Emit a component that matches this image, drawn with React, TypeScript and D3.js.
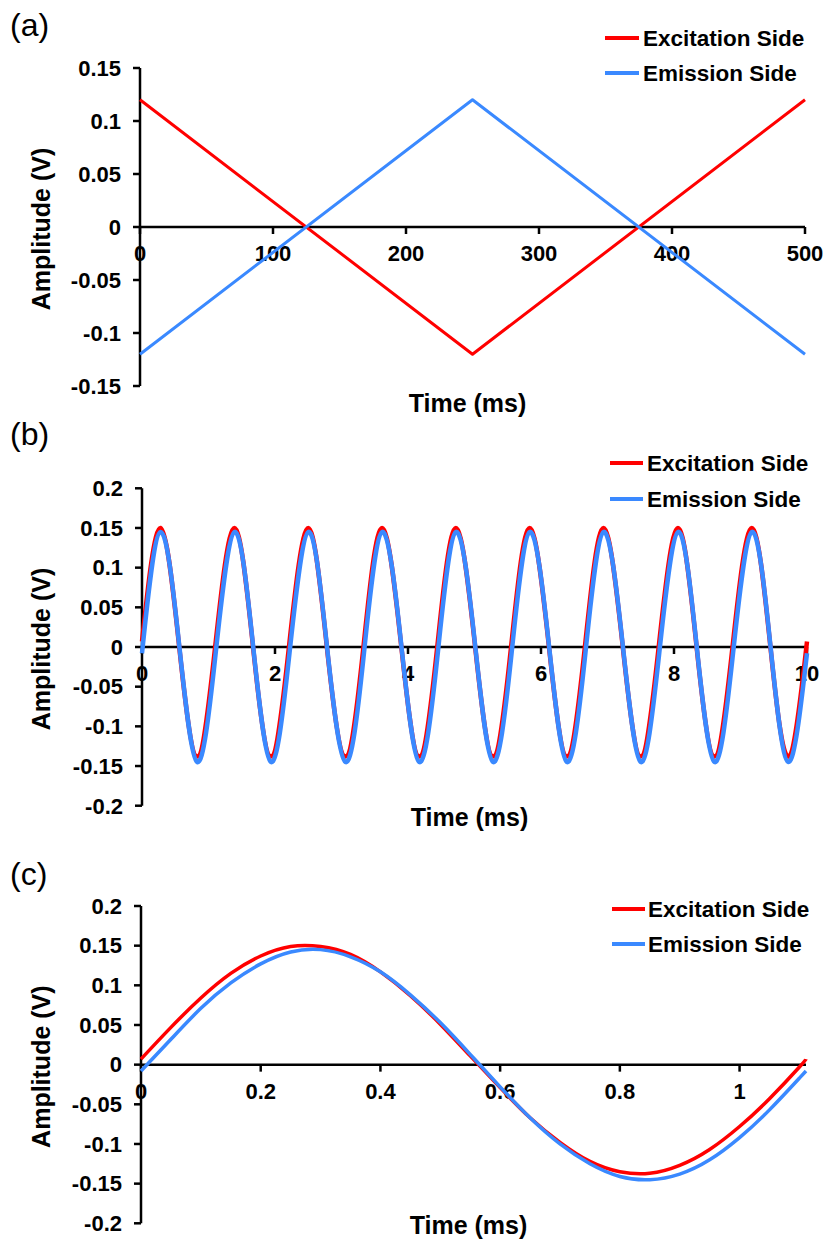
import React from "react";
import * as d3 from "d3";

// ---------------- DATA ----------------
const seriesNames = ["Excitation Side", "Emission Side"];
const seriesColors = ["#FF0000", "#3A89FF"];

// Panel (a): triangular waves
const panelA_time = [0, 250, 500];
const panelA_excitation = [0.12, -0.12, 0.12];
const panelA_emission = [-0.12, 0.12, -0.12];
const panelA_xTicks = [0, 100, 200, 300, 400, 500];
const panelA_yTicks = [0.15, 0.1, 0.05, 0, -0.05, -0.1, -0.15];

// Panel (b): sine waves over 10 ms (points at extrema / zero crossings)
const panelB_time = [
  0,
  0.28, 0.56, 0.83, 1.1,
  1.39, 1.67, 1.94, 2.21,
  2.5, 2.78, 3.06, 3.33,
  3.61, 3.9, 4.17, 4.44,
  4.72, 5.01, 5.28, 5.55,
  5.83, 6.12, 6.39, 6.66,
  6.94, 7.23, 7.5, 7.77,
  8.06, 8.34, 8.61, 8.88,
  9.17, 9.45, 9.72,
  10,
];
const panelB_excitation = [
  0.007,
  0.15, 0, -0.138, 0,
  0.15, 0, -0.138, 0,
  0.15, 0, -0.138, 0,
  0.15, 0, -0.138, 0,
  0.15, 0, -0.138, 0,
  0.15, 0, -0.138, 0,
  0.15, 0, -0.138, 0,
  0.15, 0, -0.138, 0,
  0.15, 0, -0.138,
  0.007,
];
const panelB_emission = [
  -0.008,
  0.145, 0.002, -0.145, -0.014,
  0.145, 0.002, -0.145, -0.014,
  0.145, 0.002, -0.145, -0.014,
  0.145, 0.002, -0.145, -0.014,
  0.145, 0.002, -0.145, -0.014,
  0.145, 0.002, -0.145, -0.014,
  0.145, 0.002, -0.145, -0.014,
  0.145, 0.002, -0.145, -0.014,
  0.145, 0.002, -0.145,
  -0.008,
];
const panelB_xTicks = [0, 2, 4, 6, 8, 10];
const panelB_yTicks = [0.2, 0.15, 0.1, 0.05, 0, -0.05, -0.1, -0.15, -0.2];

// Panel (c): one period
const panelC_time = [
  0, 0.05, 0.1, 0.15, 0.2, 0.25, 0.3, 0.35, 0.4, 0.45, 0.5, 0.55,
  0.6, 0.65, 0.7, 0.75, 0.8, 0.85, 0.9, 0.95, 1.0, 1.05, 1.1, 1.111,
];
const panelC_excitation = [
  0.007, 0.047, 0.084, 0.115, 0.137, 0.149, 0.149, 0.139, 0.117, 0.087, 0.051, 0.011,
  -0.029, -0.067, -0.098, -0.122, -0.135, -0.137, -0.127, -0.107, -0.078, -0.043, -0.003, 0.007,
];
const panelC_emission = [
  -0.008, 0.032, 0.071, 0.103, 0.127, 0.142, 0.145, 0.136, 0.117, 0.088, 0.053, 0.013,
  -0.028, -0.067, -0.1, -0.125, -0.141, -0.145, -0.138, -0.12, -0.092, -0.057, -0.017, -0.008,
];
const panelC_xTicks = [0, 0.2, 0.4, 0.6, 0.8, 1];
const panelC_yTicks = [0.2, 0.15, 0.1, 0.05, 0, -0.05, -0.1, -0.15, -0.2];

// ---------------- LAYOUT ----------------
const FONT = "'Liberation Sans', Arial, Helvetica, sans-serif";

type PanelCfg = {
  letter: string;
  letterY: number;
  time: number[];
  series: number[][];
  xDomain: [number, number];
  xRange: [number, number];
  yDomain: [number, number];
  yRange: [number, number];
  xTicks: number[];
  yTicks: number[];
  lineWidth: number;
  smooth: boolean;
  legendLineX: [number, number];
  legendTextX: number;
  legendY: [number, number];
  xTitleY: number;
};

const panels: PanelCfg[] = [
  {
    letter: "(a)",
    letterY: 36,
    time: panelA_time,
    series: [panelA_excitation, panelA_emission],
    xDomain: [0, 500],
    xRange: [140, 805],
    yDomain: [-0.15, 0.15],
    yRange: [386, 68],
    xTicks: panelA_xTicks,
    yTicks: panelA_yTicks,
    lineWidth: 3,
    smooth: false,
    legendLineX: [605, 639],
    legendTextX: 643,
    legendY: [38, 73],
    xTitleY: 412,
  },
  {
    letter: "(b)",
    letterY: 445,
    time: panelB_time,
    series: [panelB_excitation, panelB_emission],
    xDomain: [0, 10],
    xRange: [142, 807],
    yDomain: [-0.2, 0.2],
    yRange: [805.7, 488.3],
    xTicks: panelB_xTicks,
    yTicks: panelB_yTicks,
    lineWidth: 4.5,
    smooth: true,
    legendLineX: [610, 643],
    legendTextX: 647,
    legendY: [463, 499],
    xTitleY: 826,
  },
  {
    letter: "(c)",
    letterY: 885,
    time: panelC_time,
    series: [panelC_excitation, panelC_emission],
    xDomain: [0, 1.111],
    xRange: [141, 806],
    yDomain: [-0.2, 0.2],
    yRange: [1223.3, 906],
    xTicks: panelC_xTicks,
    yTicks: panelC_yTicks,
    lineWidth: 3.5,
    smooth: true,
    legendLineX: [612, 645],
    legendTextX: 648,
    legendY: [909, 944],
    xTitleY: 1234,
  },
];

function Panel({ cfg }: { cfg: PanelCfg }) {
  const x = d3.scaleLinear().domain(cfg.xDomain).range(cfg.xRange);
  const y = d3.scaleLinear().domain(cfg.yDomain).range(cfg.yRange);
  const x0 = x(cfg.xDomain[0]);
  const y0 = y(0);
  const line = d3
    .line<[number, number]>()
    .x((d) => x(d[0]))
    .y((d) => y(d[1]))
    .curve(cfg.smooth ? d3.curveNatural : d3.curveLinear);
  const yMin = y(cfg.yDomain[0]);
  const yMax = y(cfg.yDomain[1]);
  const axisW = 2.5;
  return (
    <g>
      <text x={10} y={cfg.letterY} fontFamily={FONT} fontSize={32} fill="#000">
        {cfg.letter}
      </text>
      {/* y axis */}
      <line x1={x0} x2={x0} y1={yMax} y2={yMin} stroke="#000" strokeWidth={axisW} />
      {cfg.yTicks.map((t) => (
        <g key={"yt" + t}>
          <line x1={x0 - 7} x2={x0} y1={y(t)} y2={y(t)} stroke="#000" strokeWidth={axisW} />
          <text
            x={x0 - 19}
            y={y(t) + 7.8}
            textAnchor="end"
            fontFamily={FONT}
            fontWeight="bold"
            fontSize={22}
            fill="#000"
          >
            {String(t)}
          </text>
        </g>
      ))}
      {/* x axis at zero */}
      <line x1={x0} x2={x(cfg.xDomain[1])} y1={y0} y2={y0} stroke="#000" strokeWidth={axisW} />
      {cfg.xTicks.map((t) => (
        <g key={"xt" + t}>
          <line x1={x(t)} x2={x(t)} y1={y0} y2={y0 + 7} stroke="#000" strokeWidth={axisW} />
          <text
            x={x(t)}
            y={y0 + 34}
            textAnchor="middle"
            fontFamily={FONT}
            fontWeight="bold"
            fontSize={22}
            fill="#000"
          >
            {String(t)}
          </text>
        </g>
      ))}
      {/* series */}
      {cfg.series.map((vals, i) => (
        <path
          key={"s" + i}
          d={line(cfg.time.map((t, j) => [t, vals[j]] as [number, number])) || ""}
          fill="none"
          stroke={seriesColors[i]}
          strokeWidth={cfg.lineWidth}
          strokeLinejoin="round"
        />
      ))}
      {/* axis titles */}
      <text
        transform={`translate(50,${y0 + 2}) rotate(-90)`}
        textAnchor="middle"
        fontFamily={FONT}
        fontWeight="bold"
        fontSize={25}
        fill="#000"
      >
        Amplitude (V)
      </text>
      <text
        x={(cfg.xRange[0] + cfg.xRange[1]) / 2 - 5}
        y={cfg.xTitleY}
        textAnchor="middle"
        fontFamily={FONT}
        fontWeight="bold"
        fontSize={25}
        fill="#000"
      >
        Time (ms)
      </text>
      {/* legend */}
      {seriesNames.map((name, i) => (
        <g key={"lg" + i}>
          <line
            x1={cfg.legendLineX[0]}
            x2={cfg.legendLineX[1]}
            y1={cfg.legendY[i]}
            y2={cfg.legendY[i]}
            stroke={seriesColors[i]}
            strokeWidth={4}
          />
          <text
            x={cfg.legendTextX}
            y={cfg.legendY[i] + 8}
            fontFamily={FONT}
            fontWeight="bold"
            fontSize={22.5}
            fill="#000"
          >
            {name}
          </text>
        </g>
      ))}
    </g>
  );
}

export default function App() {
  return (
    <svg
      width={827}
      height={1243}
      style={{ position: "absolute", left: 0, top: 0, background: "#fff" }}
    >
      <rect x={0} y={0} width={827} height={1243} fill="#fff" />
      {panels.map((p, i) => (
        <Panel key={i} cfg={p} />
      ))}
    </svg>
  );
}
